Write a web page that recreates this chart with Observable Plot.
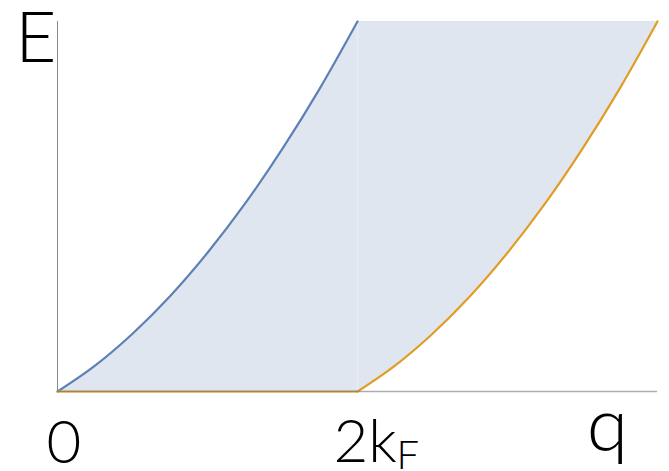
<!DOCTYPE html>
<html>
<head>
<meta charset="utf-8">
<script src="https://cdn.jsdelivr.net/npm/d3@7"></script>
<script src="https://cdn.jsdelivr.net/npm/@observablehq/plot@0.6"></script>
<style>
  html, body { margin: 0; padding: 0; background: #fff; }
  #chart svg { display: block; }
</style>
</head>
<body>
<div id="chart"></div>
<script>
// Upper boundary of the continuum (blue curve), q in units of k_F
const qUpper = [0, 0.25, 0.5, 0.75, 1, 1.25, 1.5, 1.75, 2];
const eUpper = [0, 0.56, 1.25, 2.06, 3, 4.06, 5.25, 6.56, 8];
// Lower boundary (orange curve)
const qLower = [0, 2, 2.25, 2.5, 2.75, 3, 3.25, 3.5, 3.75, 4];
const eLower = [0, 0, 0.56, 1.25, 2.06, 3, 4.06, 5.25, 6.56, 8];
// Axis extents
const qRange = [0, 4];
const eRange = [0, 8];
// Labels
const tickQ = [0, 2];
const tickText = ["0", "2k"];
const tickSub = ["F"];
const axisNames = ["E", "q"];

const upper = qUpper.map((q, i) => ({q, e: eUpper[i]}));
const lower = qLower.map((q, i) => ({q, e: eLower[i]}));
const lowerFlat = lower.filter(d => d.q <= tickQ[1]);
const lowerRise = lower.filter(d => d.q >= tickQ[1]);
const rightFill = lowerRise.map(d => ({q: d.q, lo: d.e, hi: eRange[1]}));

const blue = "#5e81b5";
const orange = "#e19c24";
const font = "Lato";

const chart = Plot.plot({
  width: 669,
  height: 471,
  marginLeft: 57,
  marginRight: 12,
  marginTop: 21,
  marginBottom: 80,
  x: {domain: qRange, axis: null},
  y: {domain: eRange, axis: null},
  style: {fontFamily: font, background: "#fff"},
  marks: [
    Plot.areaY(upper, {x: "q", y1: 0, y2: "e", fill: blue, fillOpacity: 0.2, curve: "monotone-x"}),
    Plot.areaY(rightFill, {x: "q", y1: "lo", y2: "hi", fill: blue, fillOpacity: 0.2, curve: "monotone-x"}),
    Plot.ruleX([tickQ[1]], {y1: eRange[0], y2: eRange[1], stroke: "#fff", strokeOpacity: 0.35, strokeWidth: 1}),
    Plot.ruleX([qRange[0]], {y1: eRange[0], y2: eRange[1], stroke: "#888", strokeWidth: 1}),
    Plot.line(upper, {x: "q", y: "e", stroke: blue, strokeWidth: 2.2, curve: "monotone-x"}),
    Plot.line(lowerFlat, {x: "q", y: "e", stroke: orange, strokeWidth: 2.2}),
    Plot.line(lowerRise, {x: "q", y: "e", stroke: orange, strokeWidth: 2.2, curve: "monotone-x"}),
    Plot.ruleY([eRange[0]], {x1: qRange[0], x2: qRange[1], stroke: "#777", strokeOpacity: 0.6, strokeWidth: 1.5}),
    // tick labels
    Plot.text([tickText[0]], {x: tickQ[0], y: eRange[0], text: d => d, textAnchor: "middle", lineAnchor: "bottom", dx: 6.5, dy: 71.5, fontSize: 60, fontWeight: 300, fill: "#000"}),
    Plot.text([tickText[1]], {x: tickQ[1], y: eRange[0], text: d => d, textAnchor: "start", lineAnchor: "bottom", dx: -24, dy: 70.5, fontSize: 60, fontWeight: 300, fill: "#000"}),
    Plot.text(tickSub, {x: tickQ[1], y: eRange[0], text: d => d, textAnchor: "start", lineAnchor: "bottom", dx: 39, dy: 77.5, fontSize: 40, fontWeight: 300, fill: "#000"}),
    // axis names
    Plot.text([axisNames[0]], {x: qRange[0], y: eRange[1], text: d => d, textAnchor: "end", lineAnchor: "bottom", dx: -1, dy: 40, fontSize: 71, fontWeight: 300, fill: "#000"}),
    Plot.text([axisNames[1]], {x: qRange[1], y: eRange[0], text: d => d, textAnchor: "middle", lineAnchor: "bottom", dx: -50, dy: 59.5, fontSize: 75, fontWeight: 300, fill: "#000"})
  ]
});
document.getElementById("chart").appendChild(chart);
</script>
</body>
</html>
